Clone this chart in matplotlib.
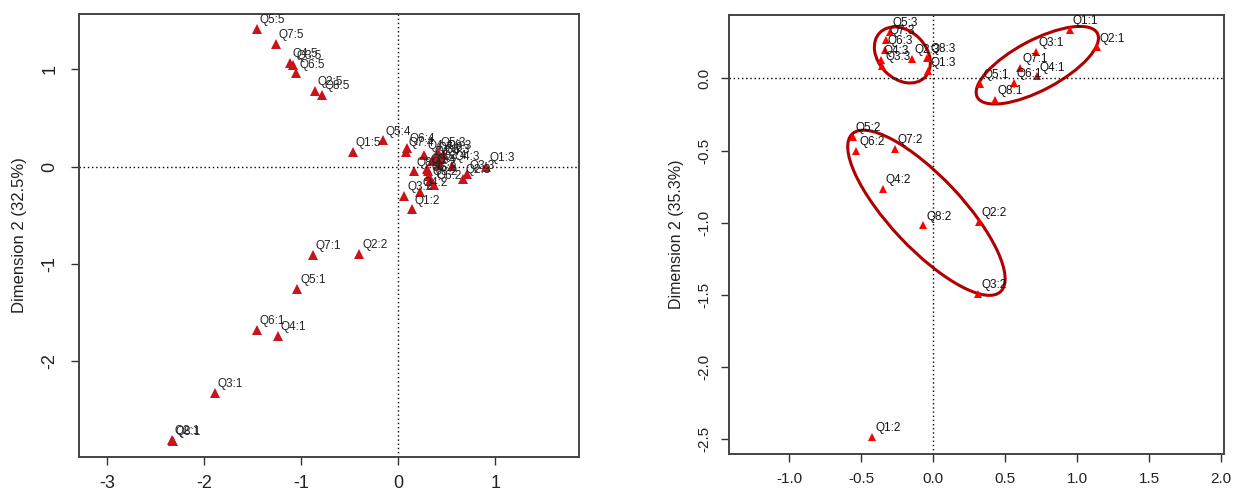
import matplotlib.pyplot as plt
from matplotlib.patches import Ellipse


plt.rcParams['font.family'] = ['Liberation Sans', 'DejaVu Sans']
plt.rcParams['axes.unicode_minus'] = False

# left panel: category coordinates (dim 1, dim 2)
LEFT_NAMES = [
    'Q5:5', 'Q7:5', 'Q4:5', 'Q3:5', 'Q6:5', 'Q2:5', 'Q8:5', 'Q1:5',
    'Q5:4', 'Q6:4', 'Q7:4', 'Q4:4', 'Q1:4', 'Q2:4', 'Q3:4', 'Q8:4',
    'Q1:3', 'Q2:3', 'Q3:3', 'Q4:3', 'Q5:3', 'Q6:3', 'Q7:3', 'Q8:3',
    'Q1:2', 'Q2:2', 'Q3:2', 'Q4:2', 'Q5:2', 'Q6:2', 'Q7:2', 'Q8:2',
    'Q7:1', 'Q5:1', 'Q6:1', 'Q4:1', 'Q3:1', 'Q2:1', 'Q8:1',
]
LEFT_X = [
    -1.46, -1.26, -1.12, -1.08, -1.05, -0.86, -0.79, -0.47,
    -0.16, 0.09, 0.08, 0.27, 0.35, 0.42, 0.30, 0.16,
    0.91, 0.67, 0.71, 0.55, 0.41, 0.45, 0.38, 0.47,
    0.14, -0.40, 0.065, 0.22, 0.32, 0.37, 0.31, 0.33,
    -0.88, -1.04, -1.46, -1.24, -1.89, -2.33, -2.32,
]
LEFT_Y = [
    1.42, 1.26, 1.07, 1.05, 0.96, 0.78, 0.74, 0.15,
    0.27, 0.19, 0.15, 0.12, 0.06, 0.02, -0.02, -0.05,
    0.00, -0.13, -0.08, 0.01, 0.15, 0.08, 0.10, 0.12,
    -0.44, -0.90, -0.30, -0.26, -0.10, -0.19, -0.05, -0.15,
    -0.91, -1.26, -1.68, -1.74, -2.33, -2.81, -2.82,
]

# right panel
RIGHT_NAMES = [
    'Q1:1', 'Q2:1', 'Q3:1', 'Q7:1', 'Q4:1', 'Q6:1', 'Q5:1', 'Q8:1',
    'Q5:3', 'Q7:3', 'Q6:3', 'Q4:3', 'Q3:3', 'Q2:3', 'Q8:3', 'Q1:3',
    'Q5:2', 'Q6:2', 'Q7:2', 'Q4:2', 'Q8:2', 'Q2:2', 'Q3:2', 'Q1:2',
]
RIGHT_X = [
    0.952, 1.139, 0.712, 0.605, 0.720, 0.560, 0.328, 0.427,
    -0.301, -0.325, -0.333, -0.360, -0.352, -0.147, -0.040, -0.035,
    -0.555, -0.533, -0.264, -0.347, -0.067, 0.320, 0.315, -0.421,
]
RIGHT_Y = [
    0.338, 0.215, 0.183, 0.072, 0.014, -0.032, -0.037, -0.148,
    0.322, 0.269, 0.199, 0.130, 0.088, 0.134, 0.141, 0.049,
    -0.407, -0.500, -0.488, -0.768, -1.019, -0.993, -1.495, -2.486,
]

# group ellipses: centre x, centre y, width, height, angle (data units)
ELLIPSE_CX = [-0.213, 0.724, -0.046]
ELLIPSE_CY = [0.163, 0.092, -0.932]
ELLIPSE_W = [0.44, 0.944, 1.503]
ELLIPSE_H = [0.33, 0.347, 0.50]
ELLIPSE_ANGLE = [-45, 28, -46.7]

LEFT_XTICKS = [-3, -2, -1, 0, 1]
LEFT_YTICKS = [1, 0, -1, -2]
RIGHT_XTICKS = [-1.0, -0.5, 0.0, 0.5, 1.0, 1.5, 2.0]
RIGHT_YTICKS = [0.0, -0.5, -1.0, -1.5, -2.0, -2.5]


def style_axes(ax, xpad, ypad, fontsize):
    for spine in ax.spines.values():
        spine.set_color('#444444')
        spine.set_linewidth(1.4)
    ax.tick_params(direction='out', length=6, width=1.0, color='#333333',
                   labelsize=fontsize, labelcolor='#222222')
    ax.tick_params(axis='x', pad=xpad)
    ax.tick_params(axis='y', pad=ypad)
    plt.setp(ax.get_yticklabels(), rotation=90, va='center')
    ax.axhline(0, color='black', linestyle=(0, (1, 2)), linewidth=1.0)
    ax.axvline(0, color='black', linestyle=(0, (1, 2)), linewidth=1.0)


def plot_left(fig):
    ax = fig.add_axes([0.0637, 0.0635, 0.403, 0.908])
    ax.plot(LEFT_X, LEFT_Y, linestyle='none', marker='^', markersize=6.5,
            color='#C8141A', markeredgewidth=0)
    for name, x, y in zip(LEFT_NAMES, LEFT_X, LEFT_Y):
        ax.annotate(name, (x, y), xytext=(2, 2), textcoords='offset points',
                    fontsize=8.5, color='#222222', ha='left', va='bottom')
    ax.set_xlim(-3.29, 1.866)
    ax.set_ylim(-2.987, 1.571)
    ax.set_xticks(LEFT_XTICKS)
    ax.set_yticks(LEFT_YTICKS)
    ax.set_xticklabels([str(t) for t in LEFT_XTICKS])
    ax.set_yticklabels([str(t) for t in LEFT_YTICKS])
    style_axes(ax, 7, 9, 13)
    ax.set_ylabel('Dimension 2 (32.5%)', fontsize=12, color='#222222', labelpad=10)


def plot_right(fig):
    ax = fig.add_axes([0.5874, 0.0697, 0.399, 0.90])
    for cx, cy, w, h, a in zip(ELLIPSE_CX, ELLIPSE_CY, ELLIPSE_W, ELLIPSE_H, ELLIPSE_ANGLE):
        ax.add_patch(Ellipse((cx, cy), w, h, angle=a, fill=False,
                             edgecolor='#B00000', linewidth=2.2))
    ax.plot(RIGHT_X, RIGHT_Y, linestyle='none', marker='^', markersize=6,
            color='#FF0000', markeredgewidth=0)
    for name, x, y in zip(RIGHT_NAMES, RIGHT_X, RIGHT_Y):
        ax.annotate(name, (x, y), xytext=(2, 2), textcoords='offset points',
                    fontsize=8.5, color='#111111', ha='left', va='bottom')
    ax.set_xlim(-1.417, 2.021)
    ax.set_ylim(-2.606, 0.442)
    ax.set_xticks(RIGHT_XTICKS)
    ax.set_yticks(RIGHT_YTICKS)
    ax.set_xticklabels([f'{t:.1f}' for t in RIGHT_XTICKS])
    ax.set_yticklabels([f'{t:.1f}' for t in RIGHT_YTICKS])
    style_axes(ax, 7, 7, 11)
    ax.set_ylabel('Dimension 2 (35.3%)', fontsize=11.5, color='#222222', labelpad=9)


def main():
    fig = plt.figure(figsize=(12.41, 4.88), dpi=100)
    plot_left(fig)
    plot_right(fig)
    fig.savefig('out.png', dpi=100)
    plt.close(fig)


if __name__ == '__main__':
    main()
